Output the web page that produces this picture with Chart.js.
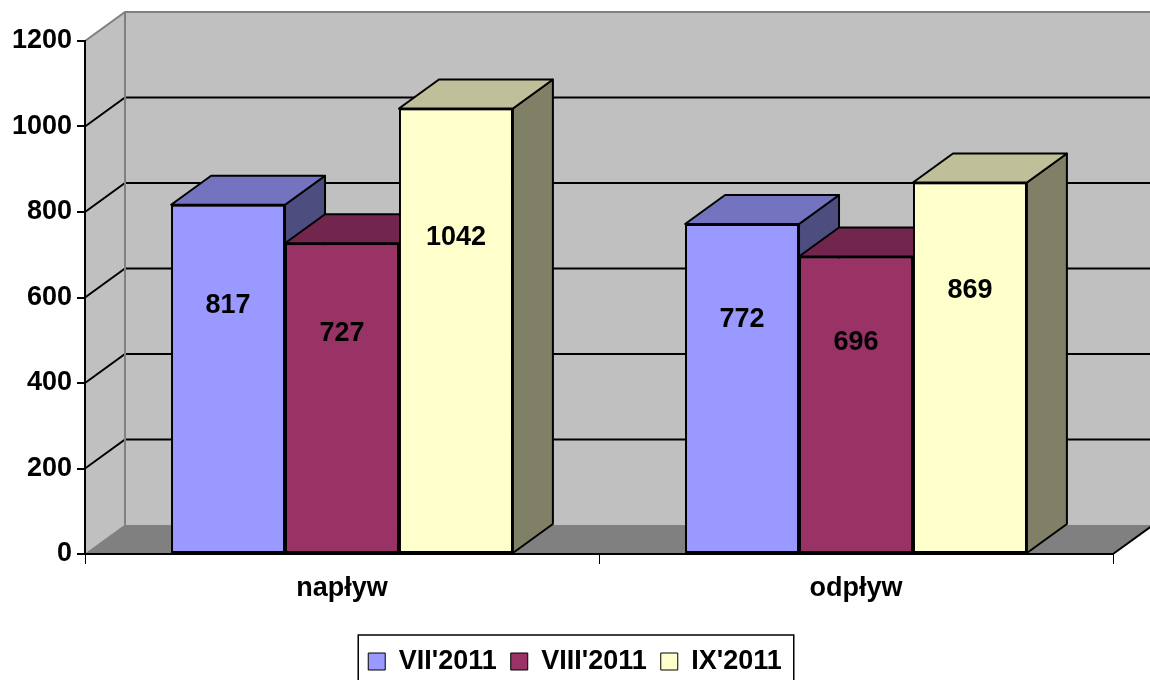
<!DOCTYPE html>
<html>
<head>
<meta charset="utf-8">
<script src="https://cdn.jsdelivr.net/npm/chart.js@4/dist/chart.umd.min.js"></script>
<style>
  html, body { margin: 0; padding: 0; background: #fff; }
</style>
</head>
<body>
<canvas id="myChart" width="1150" height="680"></canvas>
<script>
const categories = ['napływ', 'odpływ'];
const seriesNames = ["VII'2011", "VIII'2011", "IX'2011"];
const julValues = [817, 772];
const augValues = [727, 696];
const sepValues = [1042, 869];
const yTickValues = [0, 200, 400, 600, 800, 1000, 1200];

const FONT = '"Liberation Sans", Arial, sans-serif';
const frontColors = ['#9999ff', '#993366', '#ffffcc'];
const topColors = ['#7373bf', '#73264d', '#bfbf99'];
const sideColors = ['#4d4d80', '#4d1a33', '#808066'];
const DX = 40, DY = -29;

function poly(ctx, pts, fill, stroke, lw) {
  ctx.beginPath();
  ctx.moveTo(pts[0][0], pts[0][1]);
  for (let i = 1; i < pts.length; i++) ctx.lineTo(pts[i][0], pts[i][1]);
  ctx.closePath();
  if (fill) { ctx.fillStyle = fill; ctx.fill(); }
  if (stroke) { ctx.strokeStyle = stroke; ctx.lineWidth = lw || 1; ctx.lineJoin = 'round'; ctx.stroke(); }
}

function seg(ctx, pts, color, lw) {
  ctx.beginPath();
  ctx.moveTo(pts[0][0], pts[0][1]);
  for (let i = 1; i < pts.length; i++) ctx.lineTo(pts[i][0], pts[i][1]);
  ctx.strokeStyle = color;
  ctx.lineWidth = lw;
  ctx.stroke();
}

// walls, floor and the 3d faces of the bars
const box3d = {
  id: 'box3d',
  beforeDraw(chart) {
    const { ctx, chartArea: a, scales: { y } } = chart;
    ctx.save();
    ctx.fillStyle = '#c0c0c0';
    ctx.fillRect(a.left + DX, a.top + DY, a.right - a.left + 20, a.bottom - a.top);
    poly(ctx, [[a.left, a.top], [a.left + DX, a.top + DY], [a.left + DX, a.bottom + DY], [a.left, a.bottom]], '#c0c0c0');
    poly(ctx, [[a.left, a.bottom], [a.right, a.bottom], [a.right + DX, a.bottom + DY], [a.left + DX, a.bottom + DY]], '#808080');
    yTickValues.forEach(v => {
      if (v === y.min || v === y.max) return;
      const py = y.getPixelForValue(v);
      seg(ctx, [[a.left, py], [a.left + DX, py + DY], [a.right + DX, py + DY]], '#000', 2);
    });
    // wall edges
    seg(ctx, [[a.left, a.top], [a.left + DX, a.top + DY], [a.right + DX, a.top + DY]], '#808080', 2);
    seg(ctx, [[a.left + DX, a.top + DY], [a.left + DX, a.bottom + DY]], '#808080', 2);
    seg(ctx, [[a.left, a.bottom], [a.left + DX, a.bottom + DY]], '#808080', 1);
    seg(ctx, [[a.right, a.bottom], [a.right + DX, a.bottom + DY]], '#000', 2);
    ctx.restore();
  },
  afterDatasetsDraw(chart) {
    const { ctx, scales: { y } } = chart;
    ctx.save();
    chart.data.datasets.forEach((ds, i) => {
      chart.getDatasetMeta(i).data.forEach(bar => {
        const { x, y: top, base, width } = bar.getProps(['x', 'y', 'base', 'width'], true);
        const l = x - width / 2, r = x + width / 2;
        poly(ctx, [[r, top], [r + DX, top + DY], [r + DX, base + DY], [r, base]], sideColors[i], '#000', 2);
        poly(ctx, [[l, top], [r, top], [r + DX, top + DY], [l + DX, top + DY]], topColors[i], '#000', 2);
        bar.draw(ctx, chart.chartArea);
      });
    });
    ctx.font = 'bold 27px ' + FONT;
    ctx.fillStyle = '#000';
    ctx.textAlign = 'center';
    ctx.textBaseline = 'middle';
    chart.data.datasets.forEach((ds, i) => {
      chart.getDatasetMeta(i).data.forEach((bar, j) => {
        const v = ds.data[j];
        ctx.fillText(String(v), bar.x, y.getPixelForValue(v * 0.71));
      });
    });
    ctx.restore();
  },
  afterDraw(chart) {
    const { ctx, legend } = chart;
    const boxes = legend.legendHitBoxes;
    const l = Math.min(...boxes.map(b => b.left)) - 10;
    const r = Math.max(...boxes.map(b => b.left + b.width)) + 12;
    ctx.save();
    ctx.strokeStyle = '#000';
    ctx.lineWidth = 1.5;
    ctx.strokeRect(l, legend.top + 1, r - l, 80);
    ctx.restore();
  }
};

const data = {
  labels: categories,
  datasets: [julValues, augValues, sepValues].map((vals, i) => ({
    label: seriesNames[i],
    data: vals,
    backgroundColor: frontColors[i],
    borderColor: '#000',
    borderWidth: 2,
    borderSkipped: false,
    categoryPercentage: 0.665,
    barPercentage: 1
  }))
};

const config = {
  type: 'bar',
  data: data,
  options: {
    responsive: false,
    animation: false,
    layout: { padding: { top: 41, right: 0, left: 0, bottom: -5 } },
    plugins: {
      tooltip: { enabled: false },
      legend: {
        position: 'bottom',
        labels: {
          color: '#000',
          font: { family: FONT, size: 27, weight: 'bold' },
          boxWidth: 17,
          boxHeight: 17,
          padding: 14,
          generateLabels(chart) {
            return Chart.defaults.plugins.legend.labels.generateLabels(chart)
              .map(item => Object.assign(item, { lineWidth: 1 }));
          }
        }
      }
    },
    scales: {
      x: {
        afterFit(scale) { scale.height = 80; },
        grid: { display: true, drawOnChartArea: false, tickLength: 10, color: '#000', lineWidth: 1, offset: true },
        border: { display: true, color: '#000', width: 2 },
        ticks: { color: '#000', padding: 8, font: { family: FONT, size: 27, weight: 'bold' } }
      },
      y: {
        min: 0,
        max: 1200,
        afterFit(scale) { scale.width = 85; },
        afterBuildTicks(scale) { scale.ticks = yTickValues.map(v => ({ value: v })); },
        grid: { display: true, drawOnChartArea: false, tickLength: 8, color: '#000', lineWidth: 2 },
        border: { display: true, color: '#000', width: 2 },
        ticks: {
          color: '#000',
          padding: 5,
          font: { family: FONT, size: 27, weight: 'bold' },
          callback: v => String(v)
        }
      },
      // empty right-hand axis: only keeps room for the depth of the box
      depth: {
        type: 'linear',
        position: 'right',
        min: 0,
        max: 1200,
        afterFit(scale) { scale.width = 37; },
        grid: { display: false },
        border: { display: false },
        ticks: { display: false }
      }
    }
  },
  plugins: [box3d]
};

const myChart = new Chart(document.getElementById('myChart'), config);
</script>
</body>
</html>
